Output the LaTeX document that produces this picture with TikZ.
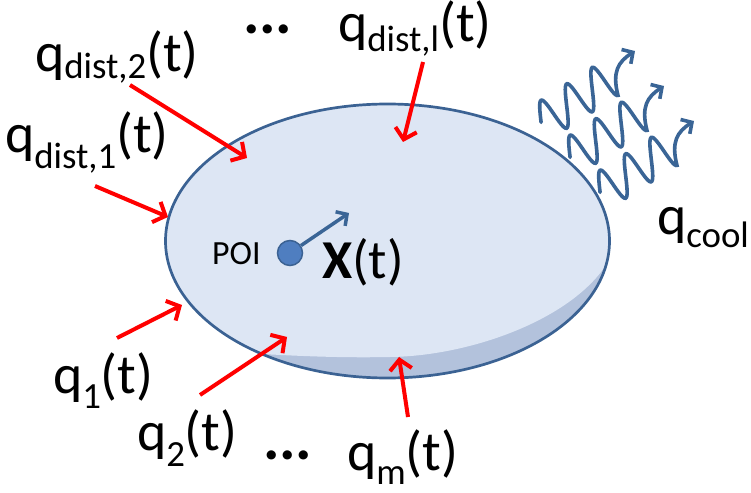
\documentclass[tikz,border=0pt]{standalone}
\usepackage{fontspec}
\setmainfont{Carlito}
\usetikzlibrary{arrows.meta}
\definecolor{facecol}{HTML}{DDE6F4}
\definecolor{bandcol}{HTML}{B3C2DC}
\definecolor{edgecol}{HTML}{3B6293}
\definecolor{wavecol}{HTML}{3A6596}
\definecolor{poicol}{HTML}{4F7EC0}
\newcommand{\qlab}[3]{q\raisebox{-#3bp}{\fontsize{37}{40}\selectfont #1}#2}
\tikzset{
  lbl/.style={inner sep=0pt, outer sep=0pt, font=\fontsize{56}{60}\selectfont},
  redarr/.style={draw=red, line width=4bp, -{Straight Barb[length=10bp,width=22bp]}},
  bluearr/.style={draw=wavecol, line width=3.5bp, -{Straight Barb[length=8bp,width=17bp]}},
  wavy/.style={draw=wavecol, line width=3.6bp, line cap=round, -{Straight Barb[length=8bp,width=17bp]}}
}
\begin{document}
\begin{tikzpicture}[x=1bp,y=-1bp]
\useasboundingbox (0,0) rectangle (751,493);
% body
\fill[bandcol] (387.5,241) ellipse [x radius=222, y radius=137];
\fill[facecol] (387.5,241) ++(124.4:222 and 137) arc [start angle=124.4, end angle=370, x radius=222, y radius=137]
  .. controls (570,320) and (470,356) .. (390,357)
  .. controls (340,358) and (300,356) .. cycle;
\draw[edgecol, line width=2.7bp] (387.5,241) ellipse [x radius=222, y radius=137];
% POI
\node[circle, fill=poicol, draw=edgecol, line width=1.5bp, minimum size=25bp, inner sep=0pt] (poi) at (290,253) {};
\coordinate (xhead) at (349,213);
\draw[bluearr] (poi) -- (xhead);
\node[inner sep=0pt, anchor=base west, font=\fontsize{34}{36}\selectfont] (poilbl) at (212,265) {POI};
\node[lbl, anchor=base west, font=\fontsize{55}{58}\selectfont] (xlbl) at (322,279) {\textbf{X}(t)};
% labels
\node[lbl, anchor=base west] (qd2) at (35,72) {\qlab{dist,2}{(t)}{7}};
\node[lbl, anchor=base west] (qdl) at (338,42) {\qlab{dist,l}{(t)}{10}};
\node[lbl, anchor=base west] (qd1) at (5,153) {\qlab{dist,1}{(t)}{16}};
\node[lbl, anchor=base west] (qcool) at (657,235) {\qlab{cool}{}{13}};
\node[lbl, anchor=base west] (q1) at (53,393) {\qlab{1}{(t)}{15}};
\node[lbl, anchor=base west] (q2) at (137,450) {\qlab{2}{(t)}{16}};
\node[lbl, anchor=base west] (qm) at (347,470) {\qlab{m}{(t)}{14}};
\node[lbl, anchor=base west, font=\fontsize{62}{62}\selectfont] (dotsA) at (243,34) {\textbf{...}};
\node[lbl, anchor=base west, font=\fontsize{62}{62}\selectfont] (dotsB) at (263,459) {\textbf{...}};
% red arrows
\coordinate (t2) at (130,85);   \coordinate (h2) at (247,158);
\coordinate (tl) at (423,62);   \coordinate (hl) at (403,142);
\coordinate (t1d) at (95,186);  \coordinate (h1d) at (168,217);
\coordinate (tq1) at (117,338); \coordinate (hq1) at (182,305);
\coordinate (tq2) at (200,395); \coordinate (hq2) at (287,337);
\coordinate (tqm) at (408,417); \coordinate (hqm) at (399,357);
\draw[redarr] (t2) -- (h2);
\draw[redarr] (tl) -- (hl);
\draw[redarr] (t1d) -- (h1d);
\draw[redarr] (tq1) -- (hq1);
\draw[redarr] (tq2) -- (hq2);
\draw[redarr] (tqm) -- (hqm);
% cooling waves
\foreach \dx/\dy in {0/0, 29/35, 59/70}{
\begin{scope}[shift={(\dx,\dy)}]
\draw[wavy] plot[domain=0.25:3, samples=90, smooth]
  ({541.2+25.6*\x-6.5*(1-cos(360*\x))}, {144.5-16.4*\x-18*(1-cos(360*\x))})
  .. controls (612,72) and (618,62) .. (635,51);
\end{scope}}
\end{tikzpicture}
\end{document}
